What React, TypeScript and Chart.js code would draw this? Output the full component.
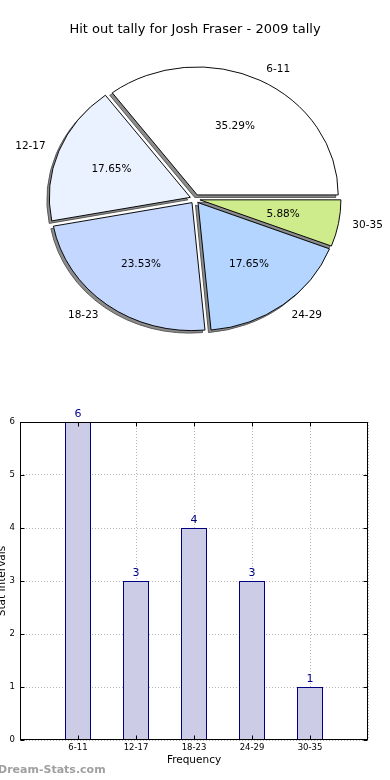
import React, { useEffect, useRef } from 'react';
import { Chart, registerables } from 'chart.js';

Chart.register(...registerables);

// ---- data ----
const categories = ['6-11', '12-17', '18-23', '24-29', '30-35'];
const counts = [6, 3, 4, 3, 1];
const sliceColors = ['#FFFFFF', '#EBF2FF', '#C4D7FF', '#B3D5FF', '#CFEC8C'];
const yTickMax = 6;
const titleText = 'Hit out tally for Josh Fraser - 2009 tally';
const xTitle = 'Frequency';
const yTitle = 'Stat Intervals';
const watermark = 'Dream-Stats.com';

// ---- style constants ----
const FONT = "'DejaVu Sans', 'Noto Sans', sans-serif";
const EXPLODE = 5;
const SY = 128 / 141;
const SHADOW_DX = -2.5;
const SHADOW_DY = 2.5;

// pie drawn counter-clockwise from 3 o'clock like the reference: reverse for Chart.js (clockwise)
const pieLabels = categories.slice().reverse();
const pieValues = counts.slice().reverse();
const pieColors = sliceColors.slice().reverse();
const total = counts.reduce((a, b) => a + b, 0);

const piePlugin = {
  id: 'pieCustom',
  beforeDatasetsDraw(chart: any) {
    const ctx = chart.ctx;
    const arcs = chart.getDatasetMeta(0).data;
    if (!arcs.length) return false;
    const cx = arcs[0].x;
    const cy = arcs[0].y;
    ctx.save();
    ctx.translate(cx, cy);
    ctx.scale(1, SY);
    ctx.translate(-cx, -cy);
    arcs.forEach((a: any) => {
      const mid = (a.startAngle + a.endAngle) / 2;
      const ox = Math.cos(mid) * EXPLODE + SHADOW_DX;
      const oy = Math.sin(mid) * EXPLODE + SHADOW_DY / SY;
      ctx.beginPath();
      ctx.moveTo(a.x + ox, a.y + oy);
      ctx.arc(a.x + ox, a.y + oy, a.outerRadius, a.startAngle, a.endAngle);
      ctx.closePath();
      ctx.fillStyle = '#8c8c8c';
      ctx.fill();
      ctx.lineWidth = 1;
      ctx.strokeStyle = '#555555';
      ctx.stroke();
    });
    arcs.forEach((a: any) => {
      const mid = (a.startAngle + a.endAngle) / 2;
      ctx.save();
      ctx.translate(Math.cos(mid) * EXPLODE, Math.sin(mid) * EXPLODE);
      a.draw(ctx);
      ctx.restore();
    });
    ctx.restore();
    return false;
  },
  afterDraw(chart: any) {
    const ctx = chart.ctx;
    const arcs = chart.getDatasetMeta(0).data;
    ctx.save();
    ctx.font = `10.5px ${FONT}`;
    ctx.fillStyle = '#000';
    ctx.textBaseline = 'middle';
    arcs.forEach((a: any, i: number) => {
      const mid = (a.startAngle + a.endAngle) / 2;
      const c = Math.cos(mid);
      const s = Math.sin(mid);
      const r = a.outerRadius;
      const bx = a.x + c * EXPLODE;
      const by = a.y + s * EXPLODE * SY;
      ctx.textAlign = c > 0 ? 'left' : 'right';
      ctx.fillText(pieLabels[i], bx + 1.1 * r * c, by + 1.1 * r * s * SY);
      ctx.textAlign = 'center';
      const pct = ((pieValues[i] / total) * 100).toFixed(2) + '%';
      ctx.fillText(pct, bx + 0.6 * r * c, by + 0.6 * r * s * SY);
    });
    ctx.restore();
  },
};

const barPlugin = {
  id: 'barCustom',
  afterDraw(chart: any) {
    const { ctx, chartArea: ca } = chart;
    const xs = chart.scales.x;
    const ys = chart.scales.y;
    ctx.save();
    ctx.strokeStyle = '#000';
    ctx.lineWidth = 1;
    ctx.setLineDash([]);
    const L = Math.round(ca.left) + 0.5;
    const R = Math.round(ca.right) - 0.5;
    const T = Math.round(ca.top) + 0.5;
    const B = Math.round(ca.bottom) - 0.5;
    ctx.strokeRect(L, T, R - L, B - T);
    // inner tick marks
    ctx.beginPath();
    for (let v = 0; v <= yTickMax; v++) {
      const py = Math.round(ys.getPixelForValue(v)) + 0.5;
      ctx.moveTo(L, py);
      ctx.lineTo(L + 4, py);
      ctx.moveTo(R, py);
      ctx.lineTo(R - 4, py);
    }
    categories.forEach((_, i) => {
      const px = Math.round(xs.getPixelForValue(i + 1)) + 0.5;
      ctx.moveTo(px, B);
      ctx.lineTo(px, B - 4);
      ctx.moveTo(px, T);
      ctx.lineTo(px, T + 4);
    });
    ctx.stroke();
    // value labels
    const meta = chart.getDatasetMeta(0);
    ctx.font = `11px ${FONT}`;
    ctx.fillStyle = '#00008B';
    ctx.textAlign = 'center';
    ctx.textBaseline = 'alphabetic';
    counts.forEach((v, i) => {
      const el = meta.data[i + 1];
      if (!el) return;
      ctx.fillText(String(v), el.x, el.y - 5);
    });
    ctx.restore();
  },
};

export default function App() {
  const pieRef = useRef<HTMLCanvasElement>(null);
  const barRef = useRef<HTMLCanvasElement>(null);

  useEffect(() => {
    Chart.defaults.font.family = FONT;
    const pie = new Chart(pieRef.current as HTMLCanvasElement, {
      type: 'pie',
      data: {
        labels: pieLabels,
        datasets: [
          {
            data: pieValues,
            backgroundColor: pieColors,
            borderColor: '#000',
            borderWidth: 1,
            hoverOffset: 0,
            offset: 0,
          } as any,
        ],
      },
      options: {
        animation: false,
        responsive: false,
        devicePixelRatio: 1,
        events: [],
        radius: 141,
        rotation: 90,
        layout: { padding: { top: 0, bottom: 19.6, left: 0, right: 0 } },
        plugins: {
          legend: { display: false },
          tooltip: { enabled: false },
          title: {
            display: true,
            text: titleText,
            color: '#000',
            font: { family: FONT, size: 13, weight: 'normal' },
            padding: { top: 22, bottom: 0 },
          },
        },
      } as any,
      plugins: [piePlugin],
    });

    const gridColor = 'rgba(120,120,120,0.55)';
    const bar = new Chart(barRef.current as HTMLCanvasElement, {
      type: 'bar',
      data: {
        labels: ['', ...categories, ''],
        datasets: [
          {
            data: [null, ...counts, null],
            backgroundColor: '#CCCCE6',
            borderColor: '#000080',
            borderWidth: 1,
            barPercentage: 26 / 58,
            categoryPercentage: 1,
            inflateAmount: 0,
          } as any,
        ],
      },
      options: {
        animation: false,
        responsive: false,
        devicePixelRatio: 1,
        events: [],
        layout: { padding: { top: 42, right: 22, left: 0, bottom: 0 } },
        plugins: {
          legend: { display: false },
          tooltip: { enabled: false },
          title: { display: false },
        },
        scales: {
          x: {
            type: 'category',
            offset: false,
            z: 1,
            grid: { offset: false, color: gridColor, lineWidth: 1, drawTicks: false },
            border: { display: false, dash: [1, 2] },
            ticks: {
              color: '#000',
              font: { family: FONT, size: 8.5 },
              padding: 3,
              maxRotation: 0,
              autoSkip: false,
            },
            title: {
              display: true,
              text: xTitle,
              color: '#000',
              font: { family: FONT, size: 10.5 },
              padding: { top: 0, bottom: 13.7 },
            },
            afterFit: (s: any) => {
              s.height = 40;
            },
          },
          y: {
            type: 'linear',
            min: 0,
            max: yTickMax,
            z: 1,
            grid: { color: gridColor, lineWidth: 1, drawTicks: false },
            border: { display: false, dash: [1, 2] },
            ticks: {
              stepSize: 1,
              color: '#000',
              font: { family: FONT, size: 8.5 },
              padding: 5,
            },
            title: {
              display: true,
              text: yTitle,
              color: '#000',
              font: { family: FONT, size: 10.5 },
              padding: 0,
            },
            afterFit: (s: any) => {
              s.width = 24;
            },
          },
        },
      } as any,
      plugins: [barPlugin],
    });

    return () => {
      pie.destroy();
      bar.destroy();
    };
  }, []);

  return (
    <div
      style={{
        position: 'fixed',
        left: 0,
        top: 0,
        width: 390,
        height: 780,
        background: '#fff',
        overflow: 'hidden',
      }}
    >
      <canvas
        ref={pieRef}
        width={390}
        height={380}
        style={{ position: 'absolute', left: 0, top: 0, width: 390, height: 380 }}
      />
      <canvas
        ref={barRef}
        width={394}
        height={400}
        style={{ position: 'absolute', left: -4, top: 380, width: 394, height: 400 }}
      />
      <div
        style={{
          position: 'absolute',
          left: -2,
          top: 762,
          fontFamily: FONT,
          fontSize: 11,
          fontWeight: 'bold',
          lineHeight: '16px',
          color: '#a0a0a0',
          whiteSpace: 'nowrap',
        }}
      >
        {watermark}
      </div>
    </div>
  );
}
